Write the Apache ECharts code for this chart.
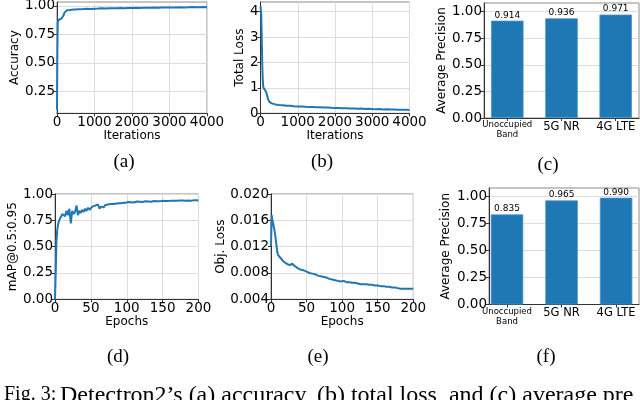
<!DOCTYPE html>
<html><head><meta charset="utf-8">
<script src="https://cdn.jsdelivr.net/npm/echarts@6/dist/echarts.min.js"></script>
<style>html,body{margin:0;padding:0;background:#fff}#c{width:640px;height:400px}</style>
</head><body><div id="c"></div>
<script>
// ---- (a) accuracy vs iterations ----
const iterA = [0,10,20,40,60,80,100,120,140,160,180,200,220,240,260,280,300,350,400,450,500,
  600,700,800,900,1000,1100,1200,1300,1400,1500,1600,1700,1800,1900,2000,2100,2200,2300,2400,2500,
  2600,2700,2800,2900,3000,3100,3200,3300,3400,3500,3600,3700,3800,3900,4000];
const accA = [0.09,0.60,0.86,0.875,0.88,0.878,0.884,0.888,0.891,0.902,0.92,0.94,0.952,0.957,0.96,0.961,0.962,0.963,0.965,0.967,0.968,
  0.970,0.971,0.973,0.972,0.975,0.976,0.978,0.977,0.978,0.979,0.978,0.980,0.979,0.981,0.980,0.982,0.981,0.983,0.982,0.983,
  0.984,0.983,0.985,0.984,0.985,0.986,0.985,0.987,0.986,0.987,0.989,0.987,0.988,0.989,0.988];
// ---- (b) total loss vs iterations ----
const iterB = [0,10,20,30,40,50,60,70,80,90,100,120,140,160,180,200,220,240,260,280,300,350,400,450,500,
  600,700,800,900,1000,1100,1200,1300,1400,1500,1600,1700,1800,1900,2000,2100,2200,2300,2400,2500,
  2600,2700,2800,2900,3000,3100,3200,3300,3400,3500,3600,3700,3800,3900,4000];
const lossB = [4.22,4.15,3.9,3.2,2.5,1.8,1.35,1.1,1.0,0.96,0.94,0.92,0.88,0.8,0.68,0.56,0.49,0.45,0.42,0.41,0.39,0.37,0.35,0.34,0.33,
  0.32,0.30,0.295,0.28,0.27,0.265,0.255,0.25,0.245,0.235,0.24,0.225,0.23,0.215,0.21,0.205,0.2,0.195,0.19,0.19,
  0.18,0.185,0.17,0.175,0.165,0.16,0.165,0.15,0.155,0.145,0.15,0.14,0.135,0.14,0.13];
// ---- (c) average precision ----
const classNames = ["Unoccupied\nBand","5G NR","4G LTE"];
const apC = [0.914,0.936,0.971];
// ---- (d) mAP vs epochs ----
const epochsD = [0,1,2,3,4,5,6,7,8,9,10,12,14,16,18,20,22,24,26,28,30,32,34,36,38,40,42,44,46,48,50,
  52,54,56,58,60,62,64,66,68,70,72,74,76,78,80,82,84,86,88,90,92,94,96,98,100,
  102,104,106,108,110,112,114,116,118,120,122,124,126,128,130,132,134,136,138,140,142,144,146,148,150,
  152,154,156,158,160,162,164,166,168,170,172,174,176,178,180,182,184,186,188,190,192,194,196,198,200];
const mapD = [0.00,0.25,0.55,0.65,0.70,0.73,0.75,0.77,0.78,0.79,0.81,0.82,0.79,0.84,0.80,0.86,0.72,0.84,0.81,0.83,0.89,0.80,0.84,0.82,0.85,0.83,0.86,0.84,0.87,0.85,0.86,
  0.88,0.87,0.89,0.88,0.90,0.86,0.88,0.89,0.875,0.895,0.885,0.90,0.89,0.905,0.895,0.905,0.90,0.91,0.905,0.912,0.906,0.914,0.909,0.916,0.920,
  0.924,0.918,0.922,0.926,0.920,0.924,0.928,0.922,0.926,0.929,0.924,0.928,0.931,0.926,0.929,0.932,0.927,0.930,0.933,0.929,0.932,0.934,0.930,0.933,0.935,
  0.931,0.934,0.936,0.933,0.935,0.937,0.934,0.936,0.938,0.935,0.937,0.939,0.936,0.938,0.940,0.937,0.939,0.938,0.940,0.937,0.939,0.941,0.938,0.940,0.939];
// ---- (e) objectness loss vs epochs ----
const epochsE = epochsD;
const lossE = [0.0121,0.0168,0.0160,0.0156,0.0150,0.0144,0.0137,0.0128,0.0119,0.0111,0.0107,0.0104,0.0102,0.0099,0.0097,0.0096,0.0094,0.0093,0.0092,0.0093,0.0094,
  0.0093,0.0090,0.0088,0.0087,0.0086,0.0085,0.0085,0.0084,0.0083,0.0082,
  0.0081,0.0080,0.0080,0.0079,0.0078,0.0078,0.0077,0.0076,0.0076,0.0075,0.0074,0.0074,0.0073,0.0073,0.0072,0.0071,0.0071,0.0070,0.0070,0.0069,0.0069,0.0068,0.0068,0.0067,0.0067,
  0.0068,0.0067,0.0066,0.0067,0.0066,0.0066,0.0065,0.0066,0.0065,0.0065,0.0064,0.0065,0.0063,0.0064,0.0063,0.0062,0.0063,0.0062,0.0062,0.0061,0.0062,0.0061,0.0061,0.0060,0.0061,
  0.0060,0.0060,0.0059,0.0060,0.0059,0.0059,0.0058,0.0059,0.0058,0.0058,0.0057,0.0058,0.0057,0.0057,0.0058,0.0056,0.0057,0.0056,0.0057,0.0056,0.0057,0.0056,0.0055,0.0056,0.0056];
// ---- (f) average precision ----
const apF = [0.835,0.965,0.990];
// tick values
const iterTicks = [0,1000,2000,3000,4000];
const epochTicks = [0,50,100,150,200];
const accTicks = [0.25,0.50,0.75,1.00];
const lossTicks = [0,1,2,3,4];
const apTicks = [0,0.25,0.5,0.75,1.0];
const objTicks = [0.004,0.008,0.012,0.016,0.020];
const classTicks = [0,1,2];
const panelLabels = ["(a)","(b)","(c)","(d)","(e)","(f)"];
const captionHead = "Fig. 3:";
const caption = "Detectron2’s (a) accuracy, (b) total loss, and (c) average pre";

const BLUE = '#1f77b4';
const FONT = 'DejaVu Sans';
const TICK = 13.5;
const zip = (xs, ys) => xs.map((x, i) => [x, ys[i]]);

function grid(l, t, w, h) {
  return {left: l, top: t, width: w, height: h, show: true, borderColor: '#8c8c8c', borderWidth: 1,
          backgroundColor: 'transparent', containLabel: false, outerBoundsMode: 'none'};
}
function xAx(gi, min, max, ticks, name, opts) {
  opts = opts || {};
  return Object.assign({
    gridIndex: gi, type: 'value', min: min, max: max,
    name: name, nameLocation: 'middle', nameGap: 15,
    nameTextStyle: {fontFamily: FONT, fontSize: 12, color: '#000'},
    axisLine: {show: true, onZero: false, lineStyle: {color: '#333', width: 1}},
    axisTick: {show: true, length: 3, customValues: ticks, lineStyle: {color: '#333'}},
    axisLabel: {customValues: ticks, fontFamily: FONT, fontSize: TICK, color: '#000', margin: 2,
                formatter: v => String(v)},
    splitLine: {show: true, lineStyle: {color: '#dcdcdc', width: 1}}
  }, opts);
}
function yAx(gi, min, max, ticks, name, gap, fmt) {
  return {
    gridIndex: gi, type: 'value', min: min, max: max,
    name: name, nameLocation: 'middle', nameGap: gap,
    nameTextStyle: {fontFamily: FONT, fontSize: 12, color: '#000'},
    axisLine: {show: true, onZero: false, lineStyle: {color: '#333', width: 1}},
    axisTick: {show: true, length: 3, customValues: ticks, lineStyle: {color: '#333'}},
    axisLabel: {customValues: ticks, fontFamily: FONT, fontSize: TICK, color: '#000', margin: 2, formatter: fmt},
    splitLine: {show: true, lineStyle: {color: '#dcdcdc', width: 1}}
  };
}
const f2 = v => v.toFixed(2);
const f3 = v => v.toFixed(3);
const classLabelOpts = {
  axisLabel: {customValues: classTicks, margin: 2, color: '#000',
    formatter: v => {
      const n = classNames[Math.round(v)];
      return n.indexOf('\n') >= 0 ? n.split('\n').map(s => '{s|' + s + '}').join('\n') : '{b|' + n + '}';
    },
    rich: {s: {fontFamily: FONT, fontSize: 8.5, lineHeight: 10, color: '#000'},
           b: {fontFamily: FONT, fontSize: 11.5, lineHeight: 14, color: '#000'}}},
  splitLine: {show: false}
};

function lineSeries(xi, data) {
  return {type: 'line', xAxisIndex: xi, yAxisIndex: xi, data: data, showSymbol: false,
    lineStyle: {color: BLUE, width: 2}, itemStyle: {color: BLUE}, animation: false, silent: true};
}
function barSeries(xi, vals) {
  return {type: 'bar', xAxisIndex: xi, yAxisIndex: xi, data: vals.map((v, i) => [i, v]), barWidth: 32.5,
    itemStyle: {color: BLUE, borderColor: '#4a93cc', borderWidth: 0.8},
    label: {show: true, position: 'top', distance: 1, fontFamily: FONT, fontSize: 9, color: '#000',
      formatter: p => p.value[1].toFixed(3)},
    animation: false, silent: true};
}

const labelPos = [[124,162],[322,162],[548,165],[118,357],[318,357],[546,357]];
const graphics = panelLabels.map((t, i) => ({
  type: 'text', x: labelPos[i][0], y: labelPos[i][1], silent: true,
  style: {text: t, fontFamily: 'Liberation Serif', fontSize: 19, fill: '#000', align: 'center', verticalAlign: 'middle'}
}));
graphics.push({type: 'text', x: 4, y: 395, silent: true,
  style: {text: captionHead, fontFamily: 'Liberation Serif', fontSize: 20, fill: '#000', align: 'left', verticalAlign: 'middle'}});
graphics.push({type: 'text', x: 60, y: 396, silent: true,
  style: {text: caption, fontFamily: 'Liberation Serif', fontSize: 24, fill: '#000', align: 'left', verticalAlign: 'middle'}});

const option = {
  animation: false,
  backgroundColor: '#fff',
  grid: [grid(57, 2, 150, 111.3), grid(260.5, 2, 149, 111.3), grid(484, 3, 155, 115),
         grid(55, 194, 143.5, 105.3), grid(271, 194, 142.3, 105.3), grid(489, 188, 150, 116.5)],
  xAxis: [
    xAx(0, 0, 4000, iterTicks, 'Iterations'),
    xAx(1, 0, 4000, iterTicks, 'Iterations'),
    xAx(2, -0.43, 2.43, classTicks, '', classLabelOpts),
    xAx(3, 0, 200, epochTicks, 'Epochs'),
    xAx(4, 0, 200, epochTicks, 'Epochs'),
    xAx(5, -0.33, 2.42, classTicks, '', classLabelOpts)
  ],
  yAxis: [
    yAx(0, 0.06, 1.033, accTicks, 'Accuracy', 31, f2),
    yAx(1, 0, 4.38, lossTicks, 'Total Loss', 12.5, v => String(v)),
    yAx(2, 0, 1.08, apTicks, 'Average Precision', 32, f2),
    yAx(3, 0, 1.0, apTicks, 'mAP@0.5:0.95', 30, f2),
    yAx(4, 0.004, 0.020, objTicks, 'Obj. Loss', 37, f3),
    yAx(5, 0, 1.08, apTicks, 'Average Precision', 37, f2)
  ],
  series: [
    lineSeries(0, zip(iterA, accA)),
    lineSeries(1, zip(iterB, lossB)),
    barSeries(2, apC),
    lineSeries(3, zip(epochsD, mapD)),
    lineSeries(4, zip(epochsE, lossE)),
    barSeries(5, apF)
  ],
  graphic: graphics
};
const chart = echarts.init(document.getElementById('c'), null, {renderer: 'canvas'});
chart.setOption(option);
</script></body></html>
